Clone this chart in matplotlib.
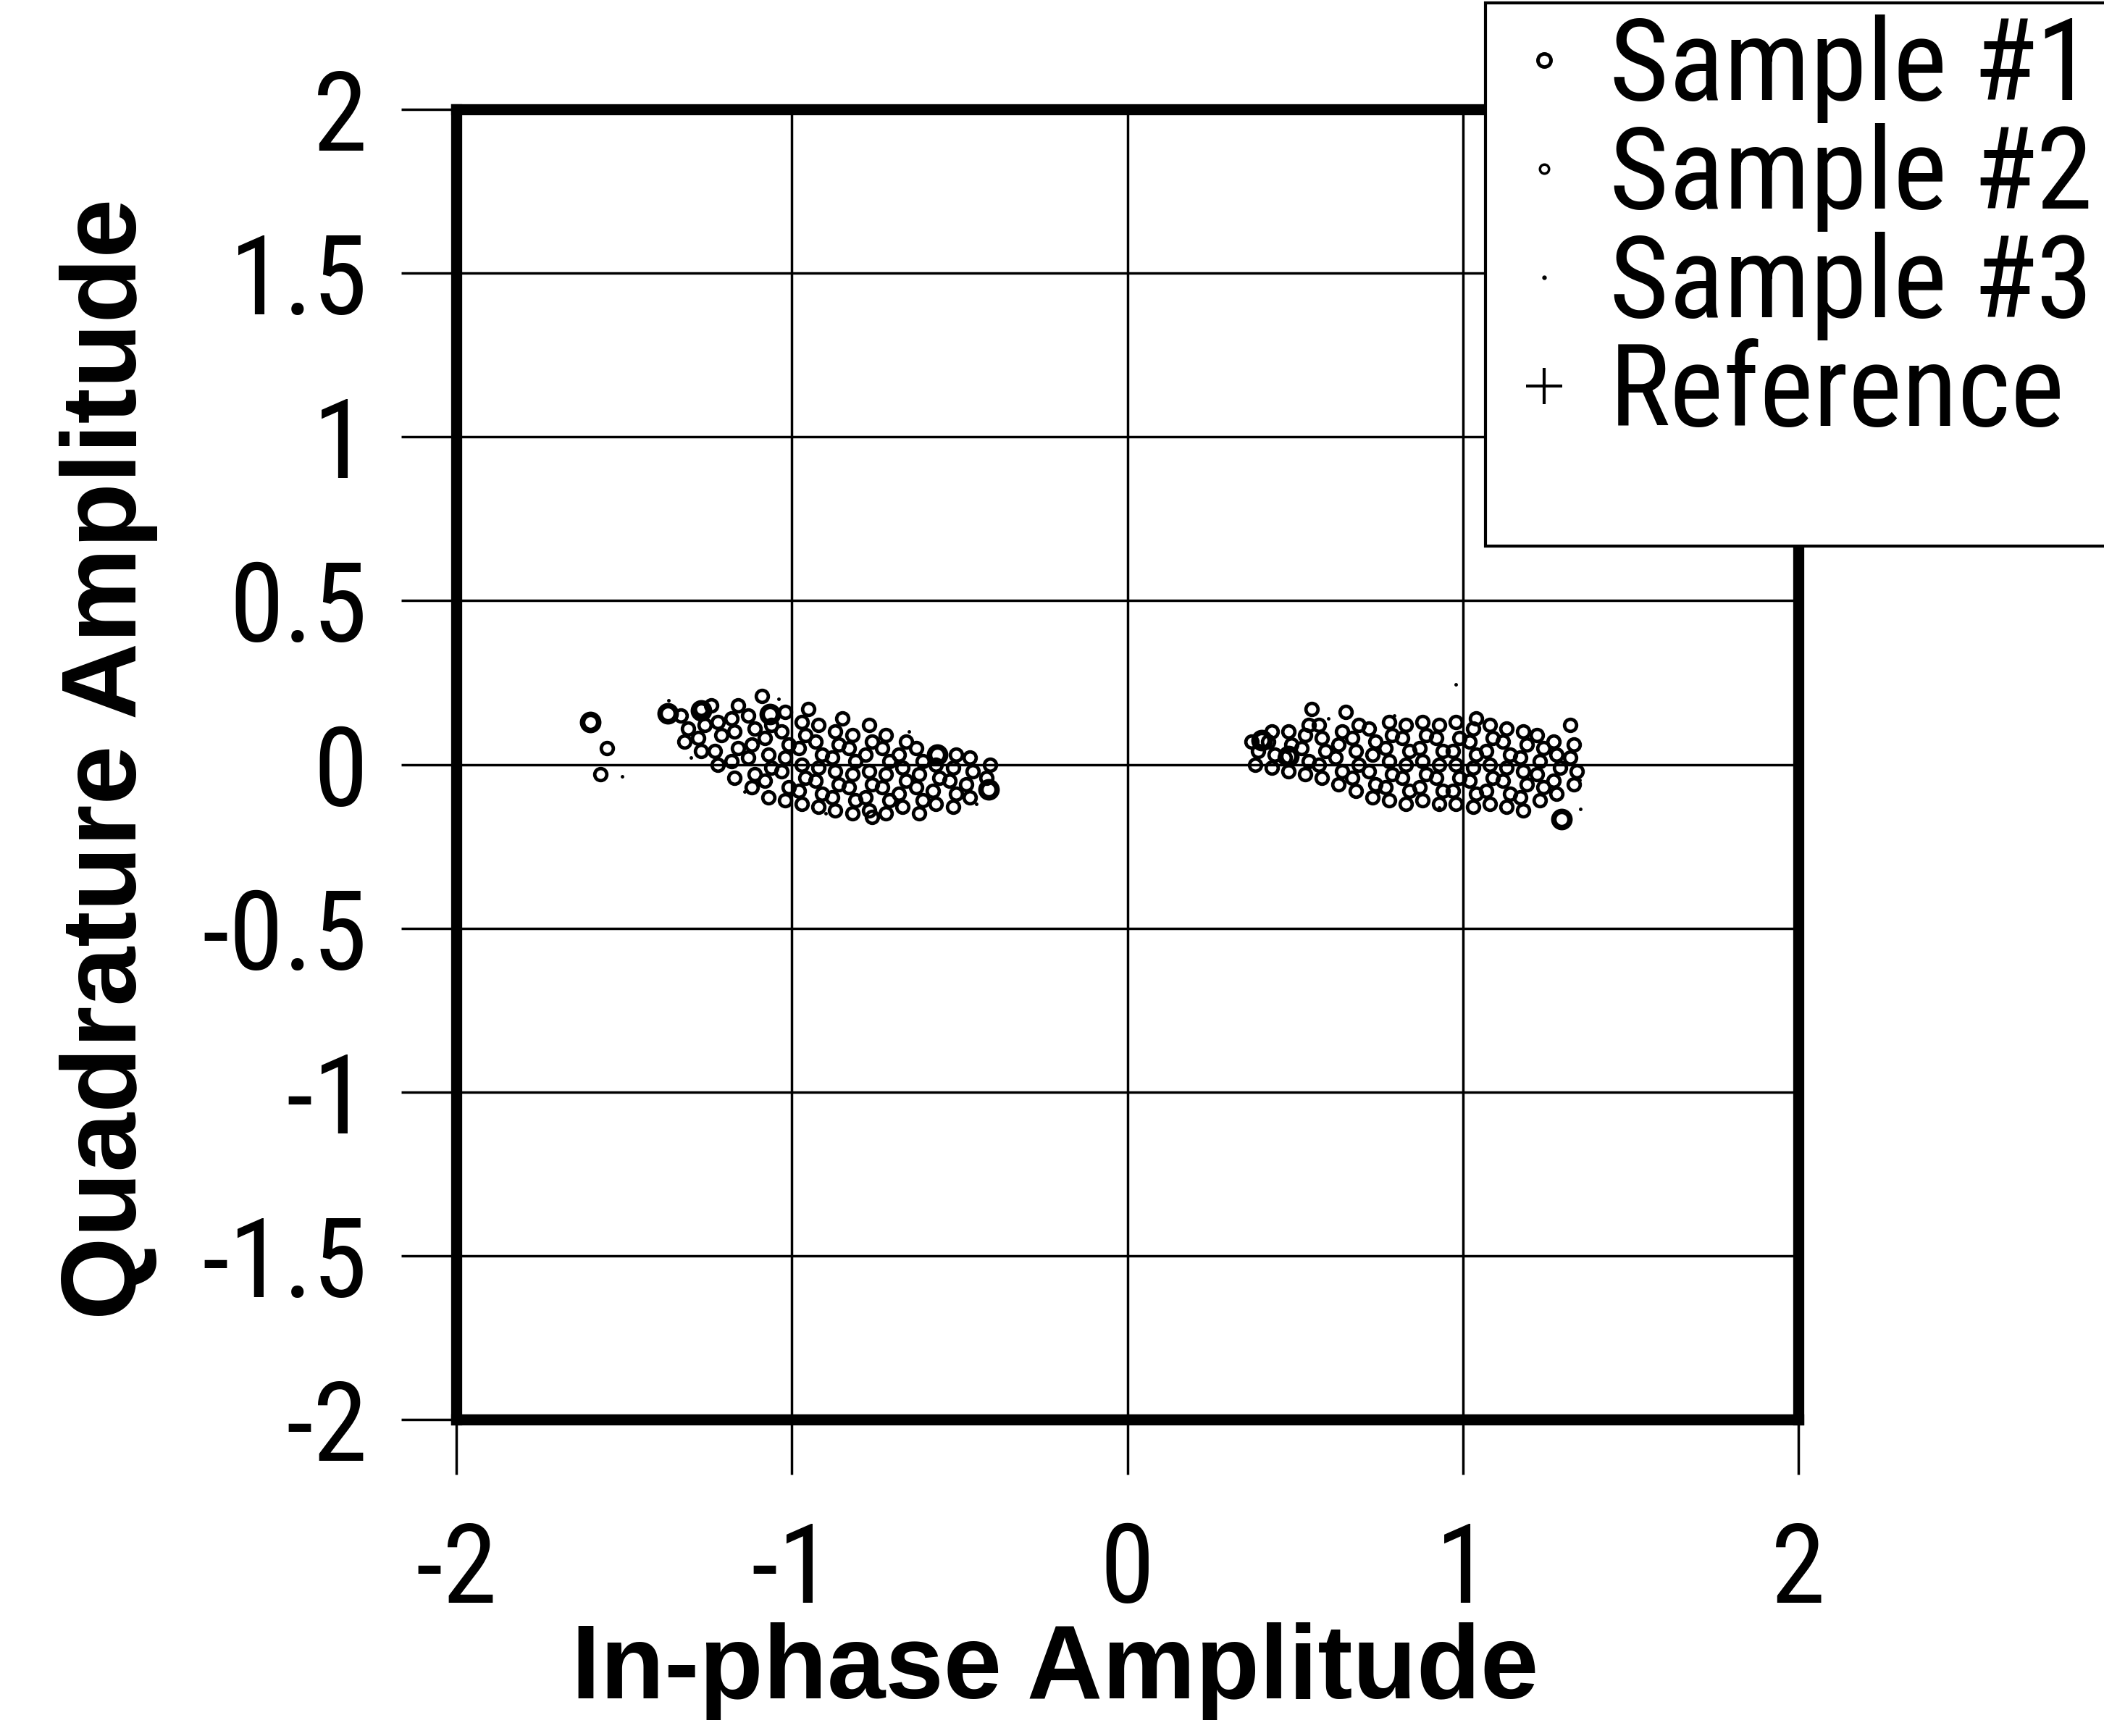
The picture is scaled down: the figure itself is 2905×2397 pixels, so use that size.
import matplotlib
matplotlib.use("Agg")
import matplotlib.pyplot as plt
from matplotlib.lines import Line2D
from matplotlib.patches import Rectangle
from matplotlib import font_manager as fm

def pick(cands):
    names = {f.name for f in fm.fontManager.ttflist}
    for c in cands:
        if c in names:
            return c
    return 'DejaVu Sans'

NARROW = pick(['Liberation Sans Narrow', 'Arial Narrow', 'Roboto Condensed',
               'Archivo Narrow', 'PT Sans Narrow', 'Liberation Sans'])
plt.rcParams['font.family'] = [NARROW, 'Liberation Sans', 'DejaVu Sans']
plt.rcParams['axes.unicode_minus'] = False

# ---------------- data ----------------
x_ticks = [-2, -1, 0, 1, 2]
x_tick_labels = ['-2', '-1', '0', '1', '2']
y_ticks = [2, 1.5, 1, 0.5, 0, -0.5, -1, -1.5, -2]
y_tick_labels = ['2', '1.5', '1', '0.5', '0', '-0.5', '-1', '-1.5', '-2']

series_names = ['Sample #1', 'Sample #2', 'Sample #3', 'Reference']

sample1_pts = [(-1.60, 0.13), (-1.37, 0.155), (-1.27, 0.165), (-1.065, 0.153),
               (-0.567, 0.03), (-0.413, -0.076),
               (0.40, 0.075), (0.48, 0.025), (1.295, -0.168)]

sample2_left = [
    (-1.32, 0.07), (-1.31, 0.11), (-1.33, 0.15),
    (-1.27, 0.04), (-1.28, 0.08), (-1.26, 0.12), (-1.27, 0.17),
    (-1.22, 0.00), (-1.23, 0.04), (-1.21, 0.09), (-1.22, 0.13), (-1.24, 0.18),
    (-1.17, -0.04), (-1.18, 0.01), (-1.16, 0.05), (-1.17, 0.10), (-1.18, 0.14), (-1.16, 0.18),
    (-1.12, -0.07), (-1.11, -0.03), (-1.13, 0.02), (-1.12, 0.06), (-1.11, 0.11), (-1.13, 0.15),
    (-1.07, -0.10), (-1.08, -0.05), (-1.06, -0.01), (-1.07, 0.03), (-1.08, 0.08), (-1.06, 0.12),
    (-1.02, -0.11), (-1.01, -0.07), (-1.03, -0.02), (-1.02, 0.02), (-1.01, 0.06), (-1.03, 0.10), (-1.02, 0.16),
    (-0.97, -0.12), (-0.98, -0.08), (-0.96, -0.04), (-0.97, 0.00), (-0.98, 0.05), (-0.96, 0.09), (-0.97, 0.13), (-0.95, 0.17),
    (-0.92, -0.13), (-0.91, -0.09), (-0.93, -0.05), (-0.92, -0.01), (-0.91, 0.03), (-0.93, 0.07), (-0.92, 0.12),
    (-0.87, -0.14), (-0.88, -0.10), (-0.86, -0.06), (-0.87, -0.02), (-0.88, 0.02), (-0.86, 0.06), (-0.87, 0.10), (-0.85, 0.14),
    (-0.82, -0.15), (-0.81, -0.11), (-0.83, -0.07), (-0.82, -0.03), (-0.81, 0.01), (-0.83, 0.05), (-0.82, 0.09),
    (-0.77, -0.14), (-0.78, -0.10), (-0.76, -0.06), (-0.77, -0.02), (-0.78, 0.03), (-0.76, 0.07), (-0.77, 0.12),
    (-0.72, -0.15), (-0.71, -0.11), (-0.73, -0.07), (-0.72, -0.03), (-0.71, 0.01), (-0.73, 0.05), (-0.72, 0.09),
    (-0.67, -0.13), (-0.68, -0.09), (-0.66, -0.05), (-0.67, -0.01), (-0.68, 0.03), (-0.66, 0.07),
    (-0.62, -0.15), (-0.61, -0.11), (-0.63, -0.07), (-0.62, -0.03), (-0.61, 0.01), (-0.63, 0.05),
    (-0.57, -0.12), (-0.58, -0.08), (-0.56, -0.04), (-0.57, 0.00),
    (-0.52, -0.13), (-0.51, -0.09), (-0.53, -0.05), (-0.52, -0.01), (-0.51, 0.03),
    (-0.47, -0.10), (-0.48, -0.06), (-0.46, -0.02), (-0.47, 0.02),
    (-0.42, -0.04), (-0.41, 0.00),
    (-1.55, 0.05), (-1.57, -0.03), (-1.09, 0.21), (-0.76, -0.16),
]

sample2_right = [
    (0.38, 0.00), (0.39, 0.04), (0.37, 0.07),
    (0.43, -0.01), (0.44, 0.03), (0.42, 0.07), (0.43, 0.10),
    (0.48, -0.02), (0.47, 0.02), (0.49, 0.06), (0.48, 0.10),
    (0.53, -0.03), (0.54, 0.01), (0.52, 0.05), (0.53, 0.09), (0.54, 0.12),
    (0.58, -0.04), (0.57, 0.00), (0.59, 0.04), (0.58, 0.08), (0.57, 0.12),
    (0.63, -0.06), (0.64, -0.02), (0.62, 0.02), (0.63, 0.06), (0.64, 0.10),
    (0.68, -0.08), (0.67, -0.04), (0.69, 0.00), (0.68, 0.04), (0.67, 0.08), (0.69, 0.12),
    (0.73, -0.10), (0.74, -0.06), (0.72, -0.02), (0.73, 0.03), (0.74, 0.07), (0.72, 0.11),
    (0.78, -0.11), (0.77, -0.07), (0.79, -0.03), (0.78, 0.01), (0.77, 0.05), (0.79, 0.09), (0.78, 0.13),
    (0.83, -0.12), (0.84, -0.08), (0.82, -0.04), (0.83, 0.00), (0.84, 0.04), (0.82, 0.08), (0.83, 0.12),
    (0.88, -0.11), (0.87, -0.07), (0.89, -0.03), (0.88, 0.01), (0.87, 0.05), (0.89, 0.09), (0.88, 0.13),
    (0.93, -0.12), (0.94, -0.08), (0.92, -0.04), (0.93, 0.00), (0.94, 0.04), (0.92, 0.08), (0.93, 0.12),
    (0.98, -0.12), (0.97, -0.08), (0.99, -0.04), (0.98, 0.00), (0.97, 0.04), (0.99, 0.08), (0.98, 0.13),
    (1.03, -0.13), (1.04, -0.09), (1.02, -0.05), (1.03, -0.01), (1.04, 0.03), (1.02, 0.07), (1.03, 0.11), (1.04, 0.14),
    (1.08, -0.12), (1.07, -0.08), (1.09, -0.04), (1.08, 0.00), (1.07, 0.04), (1.09, 0.08), (1.08, 0.12),
    (1.13, -0.13), (1.14, -0.09), (1.12, -0.05), (1.13, -0.01), (1.14, 0.03), (1.12, 0.07), (1.13, 0.11),
    (1.18, -0.14), (1.17, -0.10), (1.19, -0.06), (1.18, -0.02), (1.17, 0.02), (1.19, 0.06), (1.18, 0.10),
    (1.23, -0.11), (1.24, -0.07), (1.22, -0.03), (1.23, 0.01), (1.24, 0.05), (1.22, 0.09),
    (1.28, -0.09), (1.27, -0.05), (1.29, -0.01), (1.28, 0.03), (1.27, 0.07),
    (1.33, -0.06), (1.34, -0.02), (1.32, 0.02), (1.33, 0.06),
    (0.55, 0.17), (0.65, 0.16), (1.32, 0.12),
]

sample3_pts = [(-1.367, 0.196), (-1.506, -0.037), (-1.04, 0.20), (-1.14, -0.084),
               (-0.90, -0.15), (-0.65, 0.10), (-0.45, -0.12), (-1.30, 0.02),
               (0.795, 0.149), (0.98, 0.245), (1.35, -0.135), (0.475, -0.039),
               (0.749, -0.086), (0.929, -0.131), (1.348, -0.047), (0.60, 0.14)]

reference_pts = [(-1.0, 0.0), (1.0, 0.0)]

# ---------------- figure ----------------
W, H = 2905, 2397
fig = plt.figure(figsize=(W / 100, H / 100), dpi=100)
L, R, T, B = 630, 2483, 151, 1960
ax = fig.add_axes([L / W, 1 - B / H, (R - L) / W, (B - T) / H])

def xy(pts):
    return [p[0] for p in pts], [p[1] for p in pts]

x1, y1 = xy(sample1_pts)
x2, y2 = xy(sample2_left + sample2_right)
x3, y3 = xy(sample3_pts)
xr, yr = xy(reference_pts)

ax.plot(x2, y2, linestyle='none', marker='o', markersize=12, markerfacecolor='none',
        markeredgecolor='black', markeredgewidth=3.4, zorder=3)
ax.plot(x1, y1, linestyle='none', marker='o', markersize=16, markerfacecolor='none',
        markeredgecolor='black', markeredgewidth=5.5, zorder=4)
ax.plot(x3, y3, linestyle='none', marker='.', markersize=5, color='black', zorder=4)
ax.plot(xr, yr, linestyle='none', marker='+', markersize=8, markeredgewidth=1.5,
        color='black', zorder=2)

ax.set_xlim(-2, 2)
ax.set_ylim(-2, 2)
ax.set_xticks(x_ticks)
ax.set_xticklabels(x_tick_labels)
ax.set_yticks(y_ticks)
ax.set_yticklabels(y_tick_labels)
ax.tick_params(direction='out', length=55, width=2.5, labelsize=110, color='black')
ax.tick_params(axis='x', pad=45)
ax.tick_params(axis='y', pad=33)
ax.grid(True, color='black', linewidth=2.5)
ax.set_axisbelow(True)
for s in ax.spines.values():
    s.set_linewidth(11)
    s.set_color('black')

ax.set_xlabel('In-phase Amplitude', fontsize=104, fontweight='bold',
              family=['Liberation Sans', 'DejaVu Sans'])
ax.xaxis.set_label_coords(0.446, -0.192)
ax.xaxis.label.set_verticalalignment('center')
ax.set_ylabel('Quadrature Amplitude', fontsize=106, fontweight='bold',
              family=['Liberation Sans', 'DejaVu Sans'])
ax.yaxis.set_label_coords(-0.259, 0.504)
ax.yaxis.label.set_verticalalignment('center')

# legend
handles = [
    Line2D([], [], linestyle='none', marker='o', markersize=13, markerfacecolor='none',
           markeredgecolor='black', markeredgewidth=3.5),
    Line2D([], [], linestyle='none', marker='o', markersize=9, markerfacecolor='none',
           markeredgecolor='black', markeredgewidth=2.5),
    Line2D([], [], linestyle='none', marker='.', markersize=7, color='black'),
    Line2D([], [], linestyle='none', marker='+', markersize=36, markeredgewidth=3, color='black'),
]
leg = fig.legend(handles, series_names, loc='upper left',
                 bbox_to_anchor=(2100 / W, 1 - 20 / H), fontsize=114,
                 frameon=False, labelspacing=0.0, handlelength=0.4,
                 handletextpad=0.37, borderpad=0, borderaxespad=0)
fig.add_artist(Rectangle((2051 / W, 1 - 754 / H), (W + 20 - 2051) / W, (754 - 4) / H,
                         transform=fig.transFigure, facecolor='white', edgecolor='black',
                         linewidth=3, zorder=0.5))
leg.set_zorder(5)

fig.savefig('out.png', dpi=100)
